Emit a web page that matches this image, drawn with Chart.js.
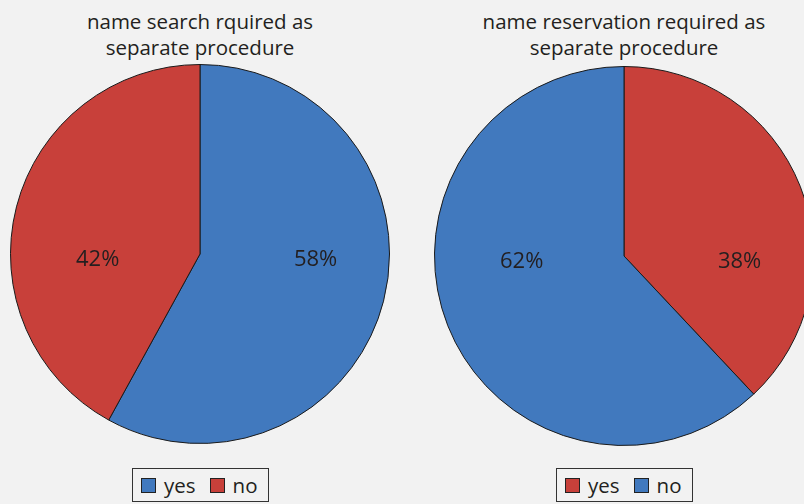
<!DOCTYPE html>
<html><head><meta charset="utf-8">
<script src="https://cdn.jsdelivr.net/npm/chart.js@4/dist/chart.umd.min.js"></script>
<style>
html,body{margin:0;padding:0;}
body{width:804px;height:504px;overflow:hidden;background:#f2f2f2;font-family:"Open Sans",sans-serif;color:#231f20;}
#wrap{position:relative;width:804px;height:504px;overflow:hidden;}
.cv{position:absolute;width:380px;height:380px;}
.title{position:absolute;width:400px;text-align:center;font-size:20.5px;line-height:26px;}
.legend{position:absolute;height:34px;border:1px solid #333;box-sizing:border-box;display:flex;align-items:center;font-size:20.5px;}
.sw{display:inline-block;width:15px;height:15px;border:1px solid #222;box-sizing:border-box;margin-right:8px;}
.item{display:flex;align-items:center;margin-right:14px;}
</style></head>
<body>
<div id="wrap">
  <div class="title" id="t1" style="left:0;top:8px;"></div>
  <div class="title" id="t2" style="left:424px;top:8px;"></div>
  <div class="cv" style="left:10px;top:64px;"><canvas id="c1"></canvas></div>
  <div class="cv" style="left:434px;top:66px;"><canvas id="c2"></canvas></div>
  <div class="legend" id="l1" style="left:132px;top:468px;width:137px;padding-left:8px;"></div>
  <div class="legend" id="l2" style="left:556px;top:468px;width:137px;padding-left:8px;"></div>
</div>
<script>
const titles = [["name search rquired as","separate procedure"],["name reservation required as","separate procedure"]];
const categories = ["yes","no"];
const leftValues = [58, 42];
const rightValues = [38, 62];
const BLUE = "#4179be", RED = "#c8403a";
const leftColors = [BLUE, RED];
const rightColors = [RED, BLUE];

const pctLabels = {
  id: 'pctLabels',
  afterDatasetsDraw(chart) {
    const ctx = chart.ctx;
    const meta = chart.getDatasetMeta(0);
    const data = chart.data.datasets[0].data;
    const total = data.reduce((a,b)=>a+b,0);
    ctx.save();
    ctx.font = '22px "Open Sans", sans-serif';
    ctx.fillStyle = '#231f20';
    ctx.textAlign = 'center';
    ctx.textBaseline = 'middle';
    meta.data.forEach((arc, i) => {
      const mid = (arc.startAngle + arc.endAngle) / 2;
      const side = Math.cos(mid) >= 0 ? 1 : -1;
      const k = side > 0 ? 0.61 : 0.54;
      const x = arc.x + side * k * arc.outerRadius;
      const y = arc.y + 6;
      ctx.fillText(Math.round(data[i] / total * 100) + '%', x, y);
    });
    ctx.restore();
  }
};

function makePie(id, values, colors) {
  new Chart(document.getElementById(id), {
    type: 'pie',
    data: { labels: categories, datasets: [{ data: values, backgroundColor: colors, borderColor: '#1a1a1a', borderWidth: 1 }] },
    options: {
      responsive: true, maintainAspectRatio: false, animation: false,
      layout: { padding: 0 },
      plugins: { legend: { display: false }, tooltip: { enabled: false }, title: { display: false } }
    },
    plugins: [pctLabels]
  });
}
makePie('c1', leftValues, leftColors);
makePie('c2', rightValues, rightColors);

document.getElementById('t1').innerHTML = titles[0].join('<br>');
document.getElementById('t2').innerHTML = titles[1].join('<br>');
function legend(id, colors) {
  const el = document.getElementById(id);
  categories.forEach((c, i) => {
    const d = document.createElement('div'); d.className = 'item';
    const s = document.createElement('span'); s.className = 'sw'; s.style.background = colors[i];
    d.appendChild(s); d.appendChild(document.createTextNode(c));
    el.appendChild(d);
  });
}
legend('l1', leftColors);
legend('l2', rightColors);
</script>
</body></html>
